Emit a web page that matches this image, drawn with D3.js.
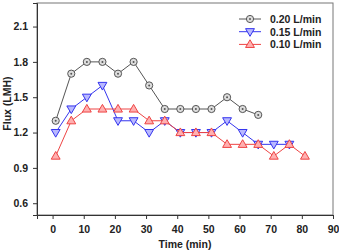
<!DOCTYPE html>
<html>
<head>
<meta charset="utf-8">
<script src="https://cdn.jsdelivr.net/npm/d3@7"></script>
<style>
  body { margin: 0; background: #fff; }
  svg text { font-family: "Liberation Sans", Arial, sans-serif; font-weight: bold; }
</style>
</head>
<body>
<div id="chart"></div>
<script>
// Data
const times_020 = [1, 6, 11, 16, 21, 26, 31, 36, 41, 46, 51, 56, 61, 66]
const flux_020  = [1.3, 1.7, 1.8, 1.8, 1.7, 1.8, 1.6, 1.4, 1.4, 1.4, 1.4, 1.5, 1.4, 1.35]
const times_015 = [1, 6, 11, 16, 21, 26, 31, 36, 41, 46, 51, 56, 61, 66, 71, 76]
const flux_015  = [1.2, 1.4, 1.5, 1.6, 1.3, 1.3, 1.2, 1.3, 1.2, 1.2, 1.2, 1.3, 1.2, 1.1, 1.1, 1.1]
const times_010 = [1, 6, 11, 16, 21, 26, 31, 36, 41, 46, 51, 56, 61, 66, 71, 76, 81]
const flux_010  = [1.0, 1.3, 1.4, 1.4, 1.4, 1.4, 1.3, 1.3, 1.2, 1.2, 1.2, 1.1, 1.1, 1.1, 1.0, 1.1, 1.0]
const seriesNames = ["0.20 L/min", "0.15 L/min", "0.10 L/min"]
const xTicks = [0, 10, 20, 30, 40, 50, 60, 70, 80, 90]
const yTicks = [0.6, 0.9, 1.2, 1.5, 1.8, 2.1]

const W = 339, H = 252
const margin = {top: 3, right: 6, bottom: 37, left: 37}
const width = W - margin.left - margin.right,
  height = H - margin.top - margin.bottom
const fontSize = 10.5

const svg = d3.select("#chart").append("svg")
  .attr("width", W)
  .attr("height", H)

const g = svg.append("g")
  .attr("transform", "translate(" + margin.left + "," + margin.top + ")")

const x = d3.scaleLinear().domain([-5, 90]).range([0, width])
const y = d3.scaleLinear().domain([0.5, 2.3]).range([height, 0])

// frame
g.append("rect")
  .attr("width", width).attr("height", height)
  .attr("fill", "none").attr("stroke", "#777").attr("stroke-width", 1)

// axes
const xAxis = g.append("g")
  .attr("transform", "translate(0," + height + ")")
  .call(d3.axisBottom(x).tickValues(xTicks).tickSize(4).tickPadding(6.5).tickFormat(d3.format("d")))
const yAxis = g.append("g")
  .call(d3.axisLeft(y).tickValues(yTicks).tickSize(4).tickPadding(5).tickFormat(d3.format(".1f")))
;[xAxis, yAxis].forEach(a => {
  a.select(".domain").attr("stroke", "#333")
  a.selectAll(".tick line").attr("stroke", "#333")
  a.selectAll(".tick text").attr("font-size", fontSize).attr("fill", "#222")
    .style("font-family", '"Liberation Sans", Arial, sans-serif').style("font-weight", "bold")
})

// axis titles
g.append("text")
  .attr("x", width / 2).attr("y", height + 33)
  .attr("text-anchor", "middle").attr("font-size", fontSize).attr("fill", "#222")
  .text("Time (min)")
g.append("text")
  .attr("transform", "rotate(-90)")
  .attr("x", -100.5).attr("y", -26)
  .attr("text-anchor", "middle").attr("font-size", fontSize).attr("fill", "#222")
  .text("Flux (LMH)")

const series = [
  {name: seriesNames[0], t: times_020, v: flux_020, stroke: "#555", fill: "#ddd", shape: "circle"},
  {name: seriesNames[1], t: times_015, v: flux_015, stroke: "#3535ee", fill: "#b8b8ff", shape: "down"},
  {name: seriesNames[2], t: times_010, v: flux_010, stroke: "#ee4444", fill: "#ffb0b0", shape: "up"}
]

function drawMarker(sel, s, cx, cy) {
  if (s.shape === "circle") {
    sel.append("circle").attr("cx", cx).attr("cy", cy).attr("r", 3.6)
      .attr("fill", s.fill).attr("stroke", s.stroke).attr("stroke-width", 1)
    sel.append("circle").attr("cx", cx).attr("cy", cy).attr("r", 1)
      .attr("fill", s.stroke)
  } else {
    const sym = d3.symbol().type(d3.symbolTriangle).size(34)
    sel.append("path").attr("d", sym())
      .attr("transform", "translate(" + cx + "," + (cy + (s.shape === "down" ? -0.5 : 0.5)) + ")" + (s.shape === "down" ? " rotate(180)" : ""))
      .attr("fill", s.fill).attr("stroke", s.stroke).attr("stroke-width", 1)
  }
}

// draw series: gray first, then blue, then red on top
series.forEach(s => {
  const pts = s.t.map((t, i) => [x(t), y(s.v[i])])
  g.append("path")
    .attr("d", d3.line()(pts))
    .attr("fill", "none").attr("stroke", s.stroke).attr("stroke-width", 1)
  const mg = g.append("g")
  pts.forEach(p => drawMarker(mg, s, p[0], p[1]))
})

// legend
const legend = g.append("g").attr("transform", "translate(" + (239 - margin.left) + "," + (19 - margin.top) + ")")
series.forEach((s, i) => {
  const row = legend.append("g").attr("transform", "translate(0," + (i * 12.7) + ")")
  row.append("line").attr("x1", 0).attr("x2", 22).attr("y1", 0).attr("y2", 0)
    .attr("stroke", s.stroke).attr("stroke-width", 1)
  drawMarker(row, s, 11, 0)
  row.append("text").attr("x", 31).attr("y", 3.8)
    .attr("font-size", fontSize).attr("fill", "#222").text(s.name)
})
</script>
</body>
</html>
